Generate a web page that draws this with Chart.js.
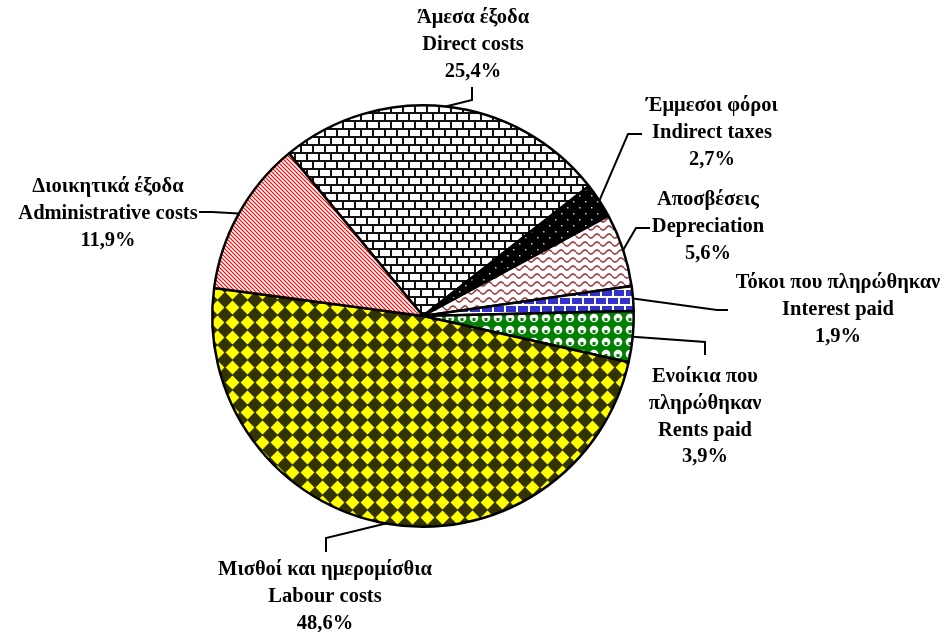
<!DOCTYPE html>
<html>
<head>
<meta charset="utf-8">
<script src="https://cdn.jsdelivr.net/npm/chart.js@4"></script>
<style>
  html, body { margin: 0; padding: 0; background: #fff; }
  #wrap { width: 950px; height: 632px; }
</style>
</head>
<body>
<div id="wrap"><canvas id="costChart" width="950" height="632"></canvas></div>
<script>
// data (clockwise from the top-left)
const categoriesEl = ["Άμεσα έξοδα", "Έμμεσοι φόροι", "Αποσβέσεις", "Τόκοι που πληρώθηκαν",
  "Ενοίκια που\nπληρώθηκαν", "Μισθοί και ημερομίσθια", "Διοικητικά έξοδα"];
const categoriesEn = ["Direct costs", "Indirect taxes", "Depreciation", "Interest paid",
  "Rents paid", "Labour costs", "Administrative costs"];
const shares = [25.4, 2.7, 5.6, 1.9, 3.9, 48.6, 11.9];

// where each label sits and the bend of its leader line
const labelLayout = [
  { x: 473, y: 18, path: [[472, 100], [472, 87]] },
  { x: 712, y: 106, path: [[628, 134], [642, 134]] },
  { x: 708, y: 200, path: [[636, 228], [650, 228]] },
  { x: 838, y: 283, path: [[717, 310], [728, 310]] },
  { x: 705, y: 377, path: [[705, 342], [705, 355]] },
  { x: 325, y: 570, path: [[326, 538], [326, 552]] },
  { x: 108, y: 187, path: [[212, 212], [199, 212]] }
];

const canvas = document.getElementById("costChart");
const ctx = canvas.getContext("2d");

function tile(w, h, draw) {
  const c = document.createElement("canvas");
  c.width = w; c.height = h;
  draw(c.getContext("2d"), w, h);
  return ctx.createPattern(c, "repeat");
}

function brick(fg, bg) {
  return tile(12, 16, (g) => {
    g.fillStyle = bg; g.fillRect(0, 0, 12, 16);
    g.fillStyle = fg;
    g.fillRect(0, 0, 12, 2); g.fillRect(0, 8, 12, 2);
    g.fillRect(0, 2, 2, 6); g.fillRect(6, 10, 2, 6);
  });
}

const dots = tile(12, 12, (g) => {
  g.fillStyle = "#000"; g.fillRect(0, 0, 12, 12);
  g.fillStyle = "#ccc"; g.fillRect(3, 3, 1.5, 1.5); g.fillRect(9, 9, 1.5, 1.5);
});

const wave = tile(12, 8, (g) => {
  g.fillStyle = "#fff"; g.fillRect(0, 0, 12, 8);
  g.strokeStyle = "#993333"; g.lineWidth = 1.5;
  g.beginPath();
  for (let x = 0; x <= 12; x += 0.5) {
    const y = 4 + 2 * Math.sin(2 * Math.PI * x / 12);
    if (x === 0) g.moveTo(x, y); else g.lineTo(x, y);
  }
  g.stroke();
});

const spheres = tile(12, 12, (g) => {
  g.fillStyle = "#008000"; g.fillRect(0, 0, 12, 12);
  g.fillStyle = "#fff";
  g.beginPath(); g.arc(6, 6, 4.3, 0, Math.PI * 2); g.fill();
  g.fillStyle = "#008000"; g.fillRect(4.5, 6, 3, 3);
});

const diamonds = tile(15, 15, (g) => {
  g.fillStyle = "#333300"; g.fillRect(0, 0, 15, 15);
  g.fillStyle = "#ffff00";
  g.beginPath();
  g.moveTo(7.5, 0.6); g.lineTo(14.4, 7.5); g.lineTo(7.5, 14.4); g.lineTo(0.6, 7.5);
  g.closePath(); g.fill();
});

const redDiag = tile(4, 4, (g) => {
  g.fillStyle = "#fff"; g.fillRect(0, 0, 4, 4);
  g.strokeStyle = "#ff0000"; g.lineWidth = 1.2;
  for (let k = -1; k <= 1; k++) {
    g.beginPath(); g.moveTo(k * 4 - 1, -1); g.lineTo(k * 4 + 5, 5); g.stroke();
  }
});

const fills = [brick("#111", "#fff"), dots, wave, brick("#fff", "#3333cc"), spheres, diamonds, redDiag];

const pct = (v) => v.toFixed(1).replace(".", ",") + "%";

const sliceLabels = {
  id: "sliceLabels",
  afterDraw(chart) {
    const g = chart.ctx;
    const meta = chart.getDatasetMeta(0);
    g.save();
    g.strokeStyle = "#000";
    g.lineWidth = 2;
    g.fillStyle = "#000";
    g.font = "bold 20.5px 'Liberation Serif', 'Times New Roman', serif";
    g.textAlign = "center";
    g.textBaseline = "middle";
    meta.data.forEach((arc, i) => {
      const p = arc.getProps(["x", "y", "startAngle", "endAngle", "outerRadius"], true);
      const mid = (p.startAngle + p.endAngle) / 2;
      const ax = p.x + Math.cos(mid) * p.outerRadius;
      const ay = p.y + Math.sin(mid) * p.outerRadius;
      const lay = labelLayout[i];
      g.beginPath();
      g.moveTo(ax, ay);
      lay.path.forEach(([px, py]) => g.lineTo(px, py));
      g.stroke();
      const lines = categoriesEl[i].split("\n").concat([categoriesEn[i], pct(shares[i])]);
      lines.forEach((t, k) => g.fillText(t, lay.x, lay.y + k * 26.7));
    });
    g.restore();
  }
};

new Chart(ctx, {
  type: "pie",
  data: {
    labels: categoriesEn,
    datasets: [{
      data: shares,
      backgroundColor: fills,
      borderColor: "#000",
      borderWidth: 2.5
    }]
  },
  options: {
    responsive: false,
    animation: false,
    rotation: -39.5,
    layout: { padding: { left: 211, right: 315, top: 104, bottom: 104 } },
    plugins: {
      legend: { display: false },
      tooltip: { enabled: false }
    }
  },
  plugins: [sliceLabels]
});
</script>
</body>
</html>
